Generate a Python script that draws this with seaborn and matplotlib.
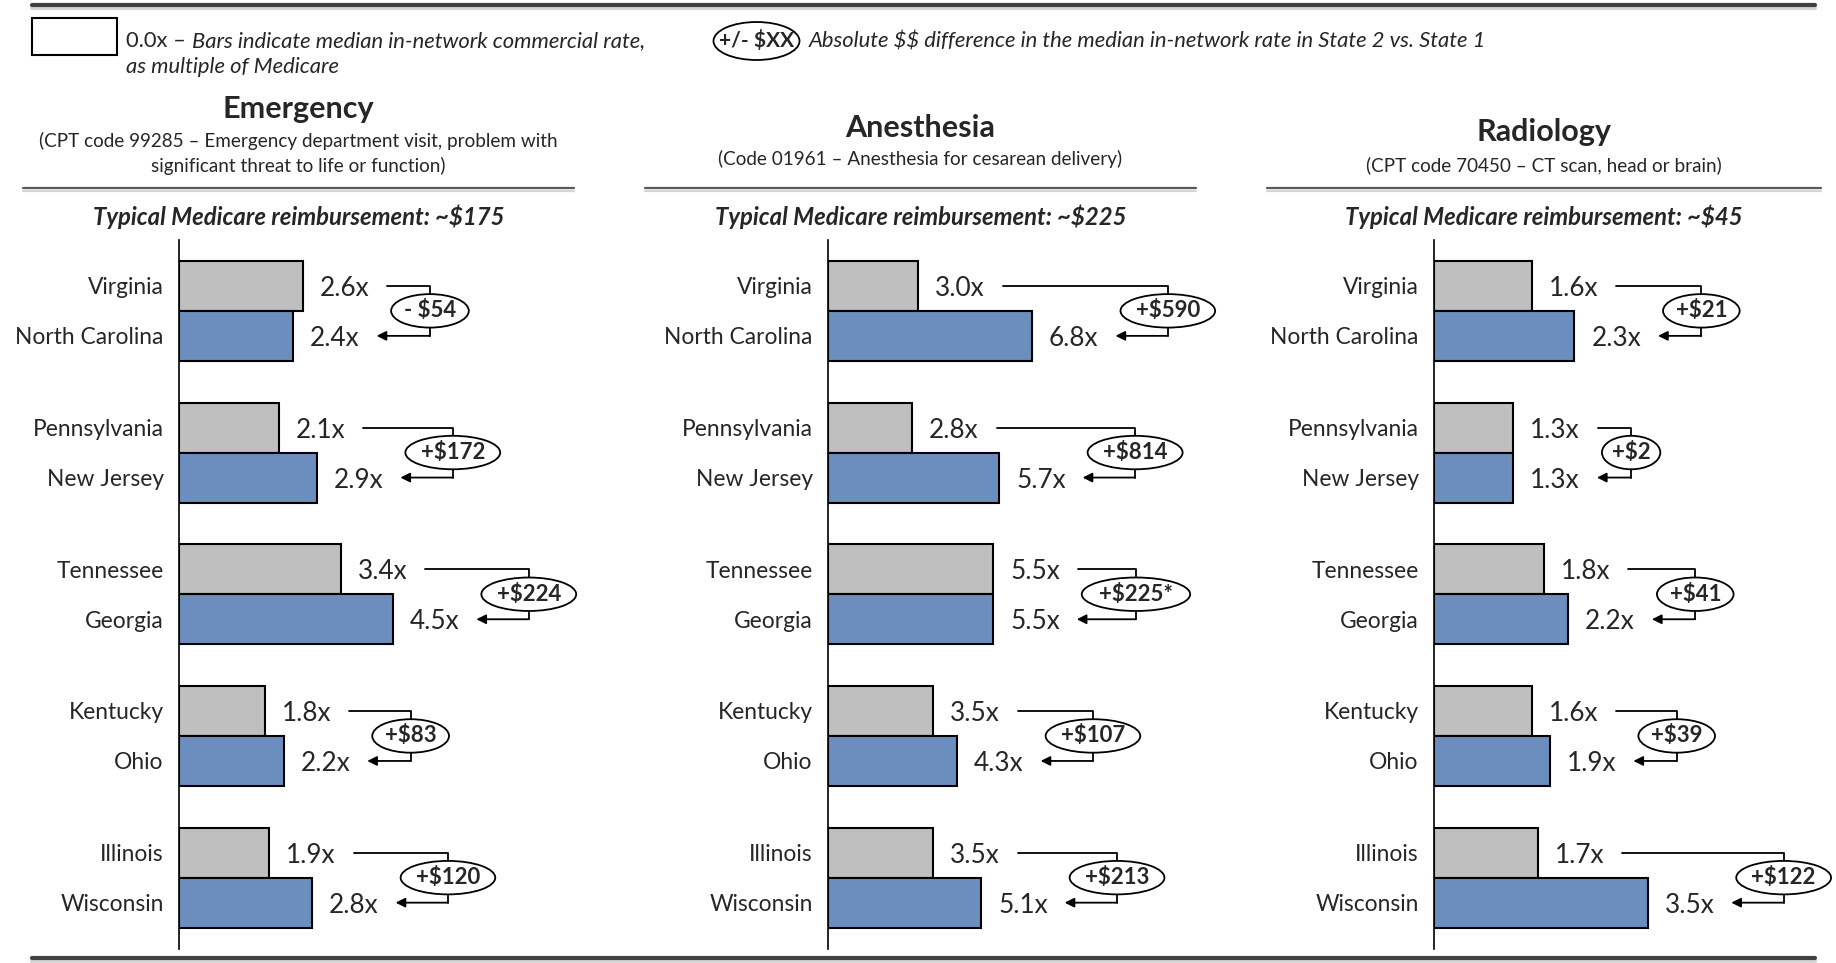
import numpy as np
import pandas as pd
import seaborn as sns
import matplotlib.pyplot as plt
from matplotlib.lines import Line2D
from matplotlib.patches import Rectangle, Ellipse
from matplotlib.transforms import offset_copy

# ---- data ----
state1 = ["Virginia", "Pennsylvania", "Tennessee", "Kentucky", "Illinois"]
state2 = ["North Carolina", "New Jersey", "Georgia", "Ohio", "Wisconsin"]

emergency_s1 = [2.6, 2.1, 3.4, 1.8, 1.9]
emergency_s2 = [2.4, 2.9, 4.5, 2.2, 2.8]
emergency_diff = ["- $54", "+$172", "+$224", "+$83", "+$120"]

anesthesia_s1 = [3.0, 2.8, 5.5, 3.5, 3.5]
anesthesia_s2 = [6.8, 5.7, 5.5, 4.3, 5.1]
anesthesia_diff = ["+$590", "+$814", "+$225*", "+$107", "+$213"]

radiology_s1 = [1.6, 1.3, 1.8, 1.6, 1.7]
radiology_s2 = [2.3, 1.3, 2.2, 1.9, 3.5]
radiology_diff = ["+$21", "+$2", "+$41", "+$39", "+$122"]

titles = ["Emergency", "Anesthesia", "Radiology"]
subtitles = [
    ["(CPT code 99285 \u2013 Emergency department visit, problem with",
     "significant threat to life or function)"],
    ["(Code 01961 \u2013 Anesthesia for cesarean delivery)"],
    ["(CPT code 70450 \u2013 CT scan, head or brain)"],
]
medicare = ["~$175", "~$225", "~$45"]

GRAY = "#BFBFBF"
BLUE = "#6C8EBF"

sns.set_style("white")
plt.rcParams["font.family"] = ["Lato", "DejaVu Sans"]
plt.rcParams["text.parse_math"] = False

W, H = 1836, 963
fig = plt.figure(figsize=(W / 100, H / 100), dpi=100)


def fx(x):
    return x / W


def fy(y):
    return 1 - y / H


def hline(x0, x1, y, lw, color, shadow=True):
    if shadow:
        fig.add_artist(Line2D([fx(x0), fx(x1)], [fy(y + 3), fy(y + 3)],
                              color="#D4D4D4", lw=lw, transform=fig.transFigure))
    fig.add_artist(Line2D([fx(x0), fx(x1)], [fy(y), fy(y)],
                          color=color, lw=lw, transform=fig.transFigure))


# top / bottom rules
hline(32, 1815, 5, 3, "#404040")
hline(32, 1815, 958, 3, "#404040")

# legend
LEG = 15.8
fig.add_artist(Rectangle((fx(32), fy(55)), 85 / W, 37 / H, transform=fig.transFigure,
                         fill=False, ec="black", lw=1.5))
t0 = fig.text(fx(126), fy(41), "0.0x \u2013 ", fontsize=LEG, va="center")
fig.canvas.draw()
r = fig.canvas.get_renderer()
e0 = t0.get_window_extent(r)
fig.text(fx(e0.x1), fy(41), "Bars indicate median in-network commercial rate,",
         fontsize=LEG, style="italic", va="center")
fig.text(fx(126), fy(67), "as multiple of Medicare", fontsize=LEG, style="italic", va="center")
fig.add_artist(Ellipse((fx(756.5), fy(41)), 86 / W, 38 / H, transform=fig.transFigure,
                       fc="white", ec="black", lw=1.3))
fig.text(fx(756.5), fy(41), "+/- $XX", fontsize=15, fontweight="bold", ha="center", va="center")
fig.text(fx(809), fy(41), "Absolute $$ difference in the median in-network rate in State 2 vs. State 1",
         fontsize=LEG, style="italic", va="center")

# panel geometry (pixels)
panel_left = [179, 828, 1434]
panel_width = [396, 368, 386]
panel_xmax = [396 / 47.5, 368 / 30.0, 386 / 61.0]
head_x0 = [23, 645, 1267]
head_x1 = [574, 1196, 1821]
title_y = [109, 128, 132]
sub_y = [[141, 166], [159], [165]]

series = [
    (emergency_s1, emergency_s2, emergency_diff),
    (anesthesia_s1, anesthesia_s2, anesthesia_diff),
    (radiology_s1, radiology_s2, radiology_diff),
]

pairs = [a + " / " + b for a, b in zip(state1, state2)]
axes = []
value_texts = []

for k in range(3):
    s1, s2, diff = series[k]
    cx = (head_x0[k] + head_x1[k]) / 2
    fig.text(fx(cx), fy(title_y[k]), titles[k], fontsize=22, fontweight="bold",
             ha="center", va="center")
    for line, yy in zip(subtitles[k], sub_y[k]):
        fig.text(fx(cx), fy(yy), line, fontsize=13.6, ha="center", va="center")
    hline(head_x0[k], head_x1[k], 188, 1.6, "#595959")
    fig.text(fx(cx), fy(217), "Typical Medicare reimbursement: " + medicare[k],
             fontsize=17.2, fontweight="bold", style="italic", ha="center", va="center")

    ax = fig.add_axes([fx(panel_left[k]), fy(948.5), panel_width[k] / W, (948.5 - 240) / H])
    df = pd.DataFrame({
        "pair": pairs * 2,
        "role": ["State 1"] * 5 + ["State 2"] * 5,
        "value": s1 + s2,
    })
    sns.barplot(data=df, x="value", y="pair", hue="role", orient="h",
                palette={"State 1": GRAY, "State 2": BLUE}, saturation=1,
                width=0.706, edgecolor="black", linewidth=1.5, legend=False, ax=ax)
    ax.set_xlim(0, panel_xmax[k])
    ax.set_ylim(4.5, -0.5)
    ax.set_xticks([])
    ax.set_xlabel("")
    ax.set_ylabel("")
    for side in ["top", "right", "bottom"]:
        ax.spines[side].set_visible(False)
    ax.spines["left"].set_color("black")
    ax.spines["left"].set_linewidth(1.2)
    ax.patch.set_alpha(0)

    c1, c2 = ax.containers[0], ax.containers[1]
    ticks, labels = [], []
    for i in range(5):
        for bar, name in ((c1[i], state1[i]), (c2[i], state2[i])):
            ticks.append(bar.get_y() + bar.get_height() / 2)
            labels.append(name)
    ax.set_yticks(ticks)
    ax.set_yticklabels(labels)
    ax.tick_params(axis="y", length=0, pad=11, labelsize=16.4)

    off = offset_copy(ax.transData, fig=fig, x=17, y=0, units="dots")
    tl = []
    for i in range(5):
        pair_t = []
        for bar in (c1[i], c2[i]):
            yc = bar.get_y() + bar.get_height() / 2
            t = ax.text(bar.get_width(), yc, f"{bar.get_width():.1f}x", transform=off,
                        fontsize=18.8, ha="left", va="center_baseline")
            pair_t.append((t, yc))
        tl.append(pair_t)
    axes.append(ax)
    value_texts.append(tl)

# brackets with difference ellipses
fig.canvas.draw()
r = fig.canvas.get_renderer()
for k in range(3):
    ax = axes[k]
    diff = series[k][2]
    inv = ax.transData.inverted()
    for i in range(5):
        (t1, y1), (t2, y2) = value_texts[k][i]
        e1 = t1.get_window_extent(r)
        e2 = t2.get_window_extent(r)
        ym = (y1 + y2) / 2
        et = ax.text(0, ym, diff[i], fontsize=16, fontweight="bold", ha="center",
                     va="center", zorder=6,
                     bbox=dict(boxstyle="ellipse,pad=0.06", fc="white", ec="black", lw=1.3))
        tw = et.get_window_extent(r).width
        ew = (tw + 2 * 0.06 * 16 * 100 / 72) * np.sqrt(2)
        bx = inv.transform((max(e1.x1, e2.x1) + 22 + ew / 2, 0))[0]
        xa = inv.transform((e1.x1 + 18, 0))[0]
        xb = inv.transform((e2.x1 + 17, 0))[0]
        et.set_x(bx)
        ax.plot([xa, bx, bx], [y1, y1, y2], color="black", lw=1.3, clip_on=False, zorder=4)
        ax.annotate("", xy=(xb, y2), xytext=(bx, y2), annotation_clip=False,
                    arrowprops=dict(arrowstyle="-|>", color="black", lw=1.3,
                                    shrinkA=0, shrinkB=0, mutation_scale=14))

fig.savefig("out.png", dpi=100)
